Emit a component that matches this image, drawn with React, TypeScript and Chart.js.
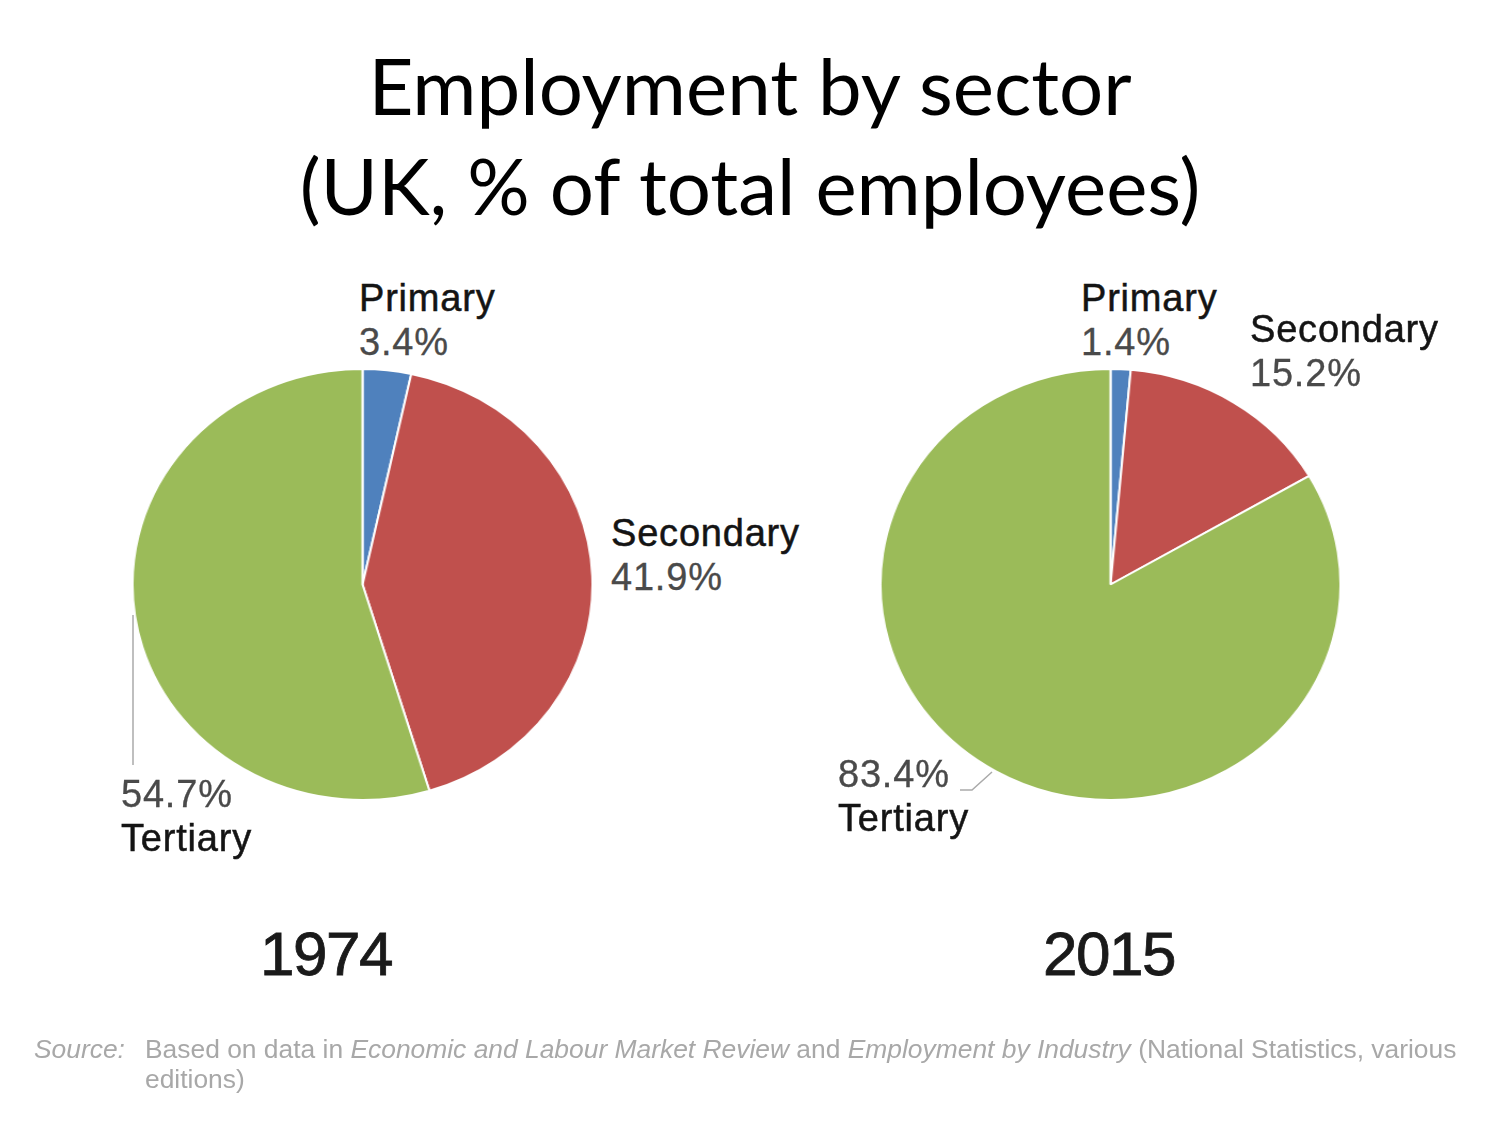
import React, { useEffect, useRef } from "react";
import { Chart, registerables } from "chart.js";

Chart.register(...registerables);

const sectors = ["Primary", "Secondary", "Tertiary"];
const values1974 = [3.4, 41.9, 54.7];
const values2015 = [1.4, 15.2, 83.4];
const years = ["1974", "2015"];
const sectorColors = ["#4F81BD", "#C0504D", "#9BBB59"];

const titleLines = ["Employment by sector", "(UK, % of total employees)"];

type LabelPos = { x: number; y: number; pctFirst: boolean };

const labelPos1974: LabelPos[] = [
  { x: 359, y: 276, pctFirst: false },
  { x: 611, y: 511, pctFirst: false },
  { x: 121, y: 772, pctFirst: true },
];
const labelPos2015: LabelPos[] = [
  { x: 1081, y: 276, pctFirst: false },
  { x: 1250, y: 307, pctFirst: false },
  { x: 838, y: 752, pctFirst: true },
];

function PieChart({ values, cx, cy, rx, ry }: { values: number[]; cx: number; cy: number; rx: number; ry: number }) {
  const ref = useRef<HTMLCanvasElement | null>(null);
  const border = 2;
  const size = Math.round(ry * 2 + border);
  useEffect(() => {
    if (!ref.current) return;
    const chart = new Chart(ref.current, {
      type: "pie",
      data: {
        labels: sectors,
        datasets: [
          {
            data: values,
            backgroundColor: sectorColors,
            borderColor: "#ffffff",
            borderWidth: border,
          },
        ],
      },
      options: {
        animation: false,
        responsive: false,
        maintainAspectRatio: false,
        layout: { padding: 0 },
        plugins: {
          legend: { display: false },
          tooltip: { enabled: false },
        },
      },
    });
    return () => chart.destroy();
  }, [values]);
  return (
    <canvas
      ref={ref}
      width={size}
      height={size}
      style={{
        position: "absolute",
        left: cx - size / 2,
        top: cy - size / 2,
        width: size,
        height: size,
        transform: `scaleX(${rx / ry})`,
        transformOrigin: "center center",
      }}
    />
  );
}

const labelFont = "'Liberation Sans', Arial, sans-serif";

function SliceLabels({ values, positions }: { values: number[]; positions: LabelPos[] }) {
  return (
    <>
      {values.map((v, i) => {
        const p = positions[i];
        const name = (
          <div key="n" style={{ color: "#141414", height: 44, WebkitTextStroke: "0.5px #141414" }}>
            {sectors[i]}
          </div>
        );
        const pct = (
          <div key="p" style={{ color: "#4a4a4a", height: 44, WebkitTextStroke: "0.3px #4a4a4a" }}>
            {v.toFixed(1)}%
          </div>
        );
        return (
          <div
            key={i}
            style={{
              position: "absolute",
              left: p.x,
              top: p.y,
              fontFamily: labelFont,
              fontSize: 38,
              lineHeight: "44px",
              whiteSpace: "nowrap",
              letterSpacing: 0.8,
            }}
          >
            {p.pctFirst ? [pct, name] : [name, pct]}
          </div>
        );
      })}
    </>
  );
}

export default function App() {
  return (
    <div
      style={{
        position: "absolute",
        left: 0,
        top: 0,
        width: 1500,
        height: 1125,
        background: "#ffffff",
        overflow: "hidden",
      }}
    >
      <div
        style={{
          position: "absolute",
          left: 0,
          top: 35,
          width: 1500,
          textAlign: "center",
          fontFamily: "Lato, 'Open Sans', sans-serif",
          fontSize: 78,
          lineHeight: "100px",
          color: "#000",
        }}
      >
        {titleLines.map((t, i) => (
          <div key={i}>{t}</div>
        ))}
      </div>

      <PieChart values={values1974} cx={362} cy={584.5} rx={230} ry={215.5} />
      <PieChart values={values2015} cx={1110} cy={584.5} rx={230} ry={215.5} />

      <SliceLabels values={values1974} positions={labelPos1974} />
      <SliceLabels values={values2015} positions={labelPos2015} />

      <svg width={1500} height={1125} style={{ position: "absolute", left: 0, top: 0, pointerEvents: "none" }}>
        <line x1={133} y1={615} x2={133} y2={765} stroke="#aaaaaa" strokeWidth={1.5} />
        <polyline points="960,790 972,790 992,772" fill="none" stroke="#aaaaaa" strokeWidth={1.5} />
      </svg>

      {years.map((y, i) => (
        <div
          key={y}
          style={{
            position: "absolute",
            left: i === 0 ? 226 : 1009,
            top: 918,
            width: 200,
            textAlign: "center",
            fontFamily: labelFont,
            fontSize: 62,
            lineHeight: "72px",
            color: "#1a1a1a",
            letterSpacing: -1.5,
            WebkitTextStroke: "0.8px #1a1a1a",
          }}
        >
          {y}
        </div>
      ))}

      <div
        style={{
          position: "absolute",
          left: 34,
          top: 1034,
          fontFamily: "'Liberation Sans Narrow', 'Liberation Sans', sans-serif",
          fontSize: 26.4,
          lineHeight: "30px",
          color: "#a8a8a8",
          whiteSpace: "nowrap",
        }}
      >
        <span style={{ fontStyle: "italic", display: "inline-block", width: 111 }}>Source:</span>
        <span>
          Based on data in <i>Economic and Labour Market Review</i> and <i>Employment by Industry</i> (National
          Statistics, various
        </span>
        <div style={{ paddingLeft: 111 }}>editions)</div>
      </div>
    </div>
  );
}
